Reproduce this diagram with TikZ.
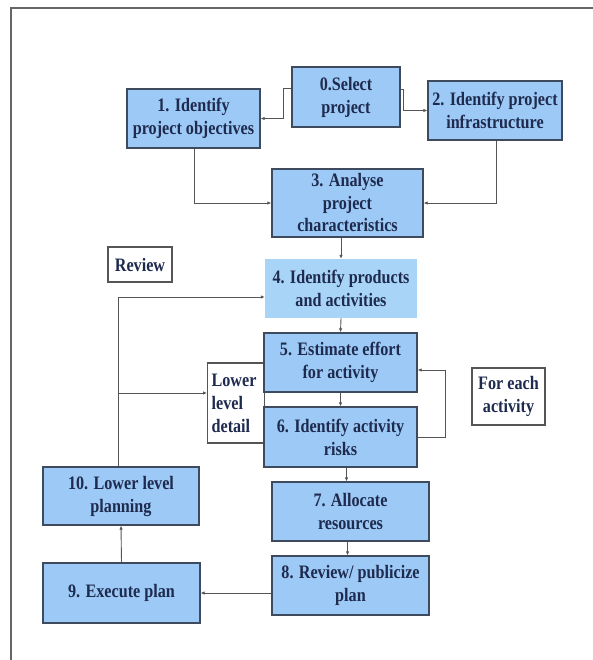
\documentclass[tikz,border=0pt]{standalone}
\usepackage{fontspec}
\setmainfont{Liberation Serif}[FakeStretch=0.85]
\usetikzlibrary{arrows.meta,calc}
\definecolor{boxfill}{HTML}{9CC9F5}
\definecolor{boxfilllight}{HTML}{A8D5F7}
\definecolor{boxline}{HTML}{3E4A5E}
\definecolor{txt}{HTML}{1E2A4E}
\definecolor{conn}{HTML}{555555}
\begin{document}
\begin{tikzpicture}[x=1pt,y=-1pt,
  every node/.style={font=\fontsize{19}{23}\selectfont\bfseries, text=txt, align=center, inner sep=0pt},
  stepbox/.style={draw=boxline, line width=1.3pt, fill=boxfill},
  lightbox/.style={fill=boxfilllight},
  labelbox/.style={draw=conn, line width=1.2pt, fill=white},
  connline/.style={draw=conn, line width=0.9pt, -{Latex[length=4pt,width=3.5pt]}},
  plainline/.style={draw=conn, line width=0.9pt}]
\useasboundingbox (0,0) rectangle (593,660);
\draw[draw=conn!90, line width=1.5pt] (593,8) -- (11,8) -- (11,660);

\node[stepbox, minimum width=108, minimum height=60] (b0) at (346,97) {0.Select\\project};
\node[stepbox, minimum width=133, minimum height=59] (b1) at (193.5,118.5) {1. Identify\\project objectives};
\node[stepbox, minimum width=134, minimum height=59] (b2) at (495,110.5) {2. Identify project\\infrastructure};
\node[stepbox, minimum width=151, minimum height=68] (b3) at (347.5,203) {3. Analyse\\project\\[-1pt]characteristics};
\node[lightbox, minimum width=152, minimum height=59] (b4) at (341,288.5) {4. Identify products\\and activities};
\node[labelbox, minimum width=64, minimum height=35] (rev) at (140,264.5) {Review};
\node[labelbox, minimum width=57, minimum height=80, align=left, anchor=west, text width=49, inner xsep=4pt] (lld) at (207,403) {Lower\\level\\detail};
\node[stepbox, minimum width=153, minimum height=59] (b5) at (340.5,362.5) {5. Estimate effort\\for activity};
\node[stepbox, minimum width=153, minimum height=60] (b6) at (340.5,437) {6. Identify activity\\risks};
\node[labelbox, minimum width=73, minimum height=57] (fea) at (508.5,396.5) {For each\\activity};
\node[stepbox, minimum width=157, minimum height=59] (b7) at (350.5,511.5) {7. Allocate\\resources};
\node[stepbox, minimum width=157, minimum height=59] (b8) at (350.5,585.5) {8. Review/ publicize\\plan};
\node[stepbox, minimum width=156, minimum height=58] (b10) at (121,496) {10. Lower level\\planning};
\node[stepbox, minimum width=157, minimum height=60] (b9) at (121.5,593) {9. Execute plan};

% top connectors
\coordinate (c0l) at (283,88);
\coordinate (c0r) at (403,89);
\draw[connline] (b0.west |- c0l) -- (c0l) |- (b1.east);
\draw[connline] (b0.east |- c0r) -- (c0r) |- (b2.west);
\draw[connline] ([xshift=0.5pt]b1.south) |- (b3.west);
\draw[connline] ([xshift=1pt]b2.south) |- (b3.east);
\draw[connline] (b3.south -| b4.north) -- (b4.north);
\draw[connline] (b4.south) -- (b5.north);
\draw[connline] (b5.south) -- (b6.north);
\draw[connline] ([xshift=6pt]b6.south) -- ([xshift=6pt]b6.south |- b7.north);
\draw[connline] ([xshift=-3pt]b7.south) -- ([xshift=-3pt]b7.south |- b8.north);
\draw[connline] (b8.west |- b9.east) -- (b9.east);
\draw[connline] (b9.north) -- (b10.north |- b10.south);

% loop for each activity
\coordinate (l6) at (445,437);
\coordinate (l5) at (445,370);
\draw[connline] (b6.east |- l6) -- (l6) -- (l5) -- (b5.east |- l5);

% feedback from lower level planning
\coordinate (fbtop) at (118,297);
\coordinate (fbmid) at (118,393);
\draw[plainline] ([xshift=-3pt]b10.north) -- (fbtop);
\draw[connline] (fbtop) -- (b4.west |- fbtop);
\draw[connline] (fbmid) -- (lld.west |- fbmid);
\end{tikzpicture}
\end{document}
